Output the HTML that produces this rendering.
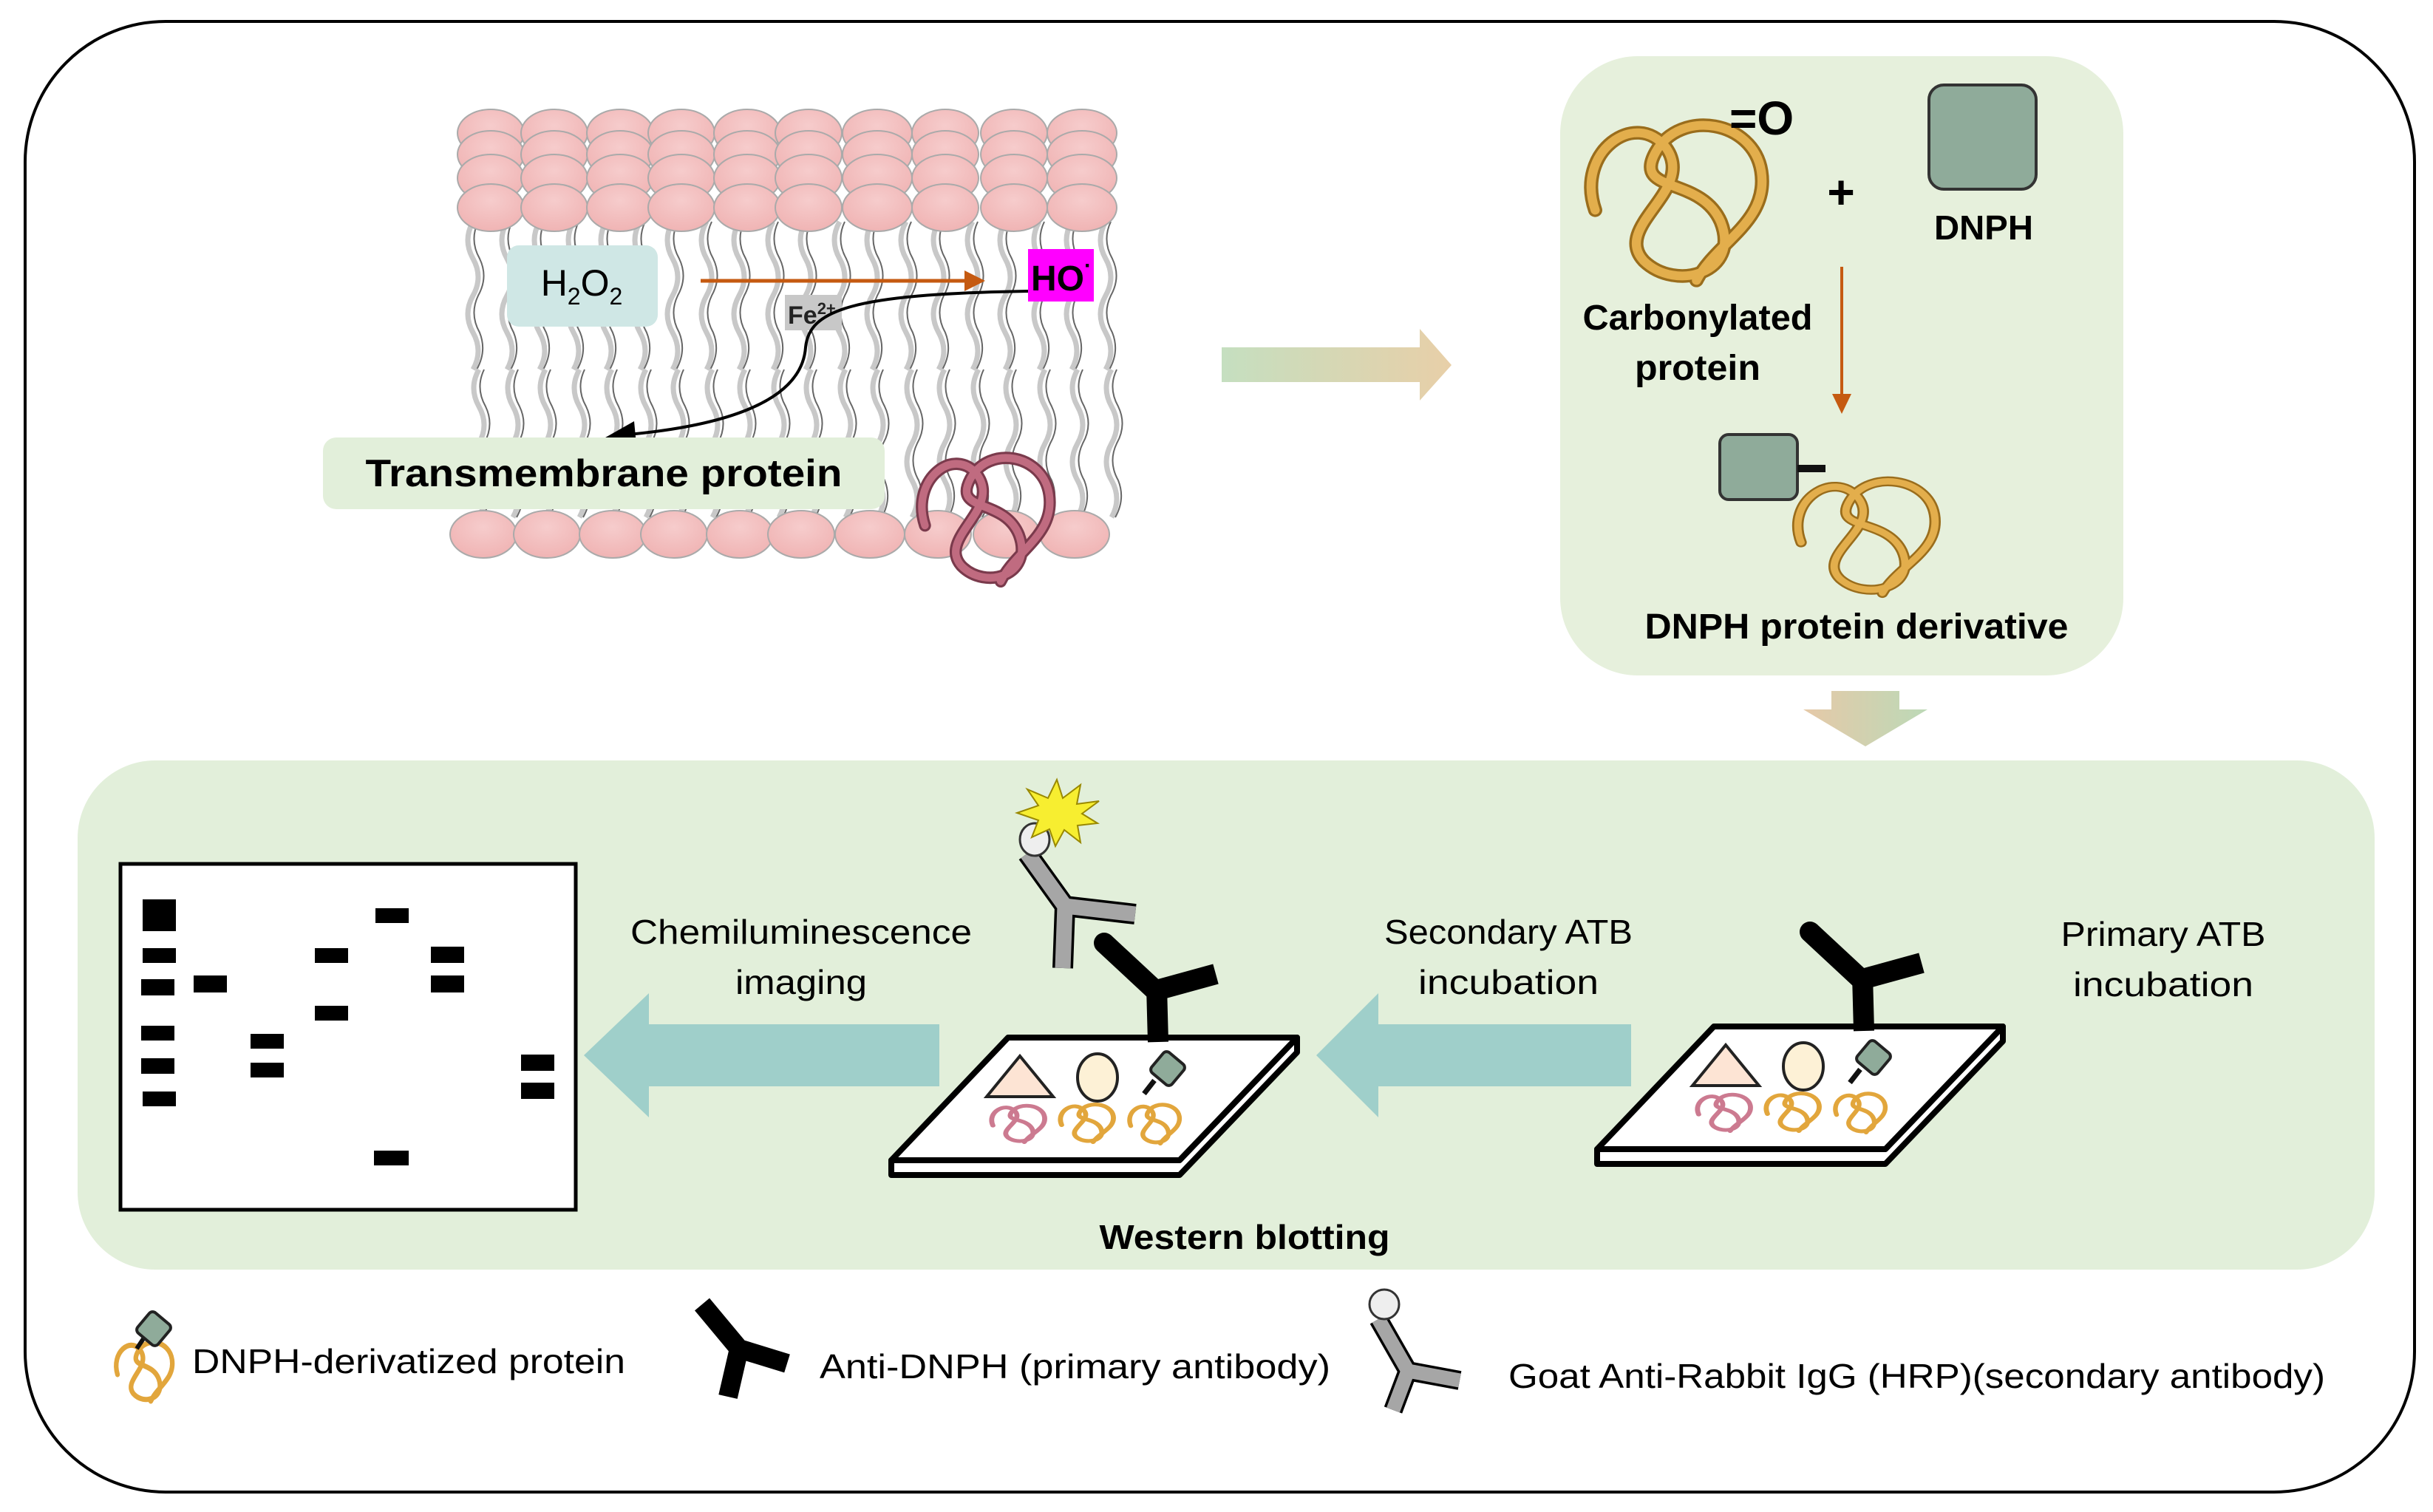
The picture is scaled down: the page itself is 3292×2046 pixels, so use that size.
<!DOCTYPE html>
<html><head><meta charset="utf-8"><style>
html,body{margin:0;padding:0;background:#fff}
svg{display:block}
text{font-family:"Liberation Sans",sans-serif}
</style></head><body>
<svg width="3292" height="2046" viewBox="0 0 3292 2046" xmlns="http://www.w3.org/2000/svg">
<defs>
<radialGradient id="head" cx="50%" cy="35%" r="65%"><stop offset="0" stop-color="#f6cccc"/><stop offset="1" stop-color="#f0b4b4"/></radialGradient>
<linearGradient id="ga" x1="0" x2="1"><stop offset="0" stop-color="#c5dfc0"/><stop offset="1" stop-color="#e8cfa8"/></linearGradient>
<linearGradient id="gd" x1="0" x2="1"><stop offset="0" stop-color="#e6c9a8"/><stop offset="1" stop-color="#bcd9b7"/></linearGradient>
<path id="coil" d="M10,60 C0,30 30,8 45,28 C60,50 18,68 34,86 C50,102 82,92 72,66 C62,42 28,52 40,30 C52,8 88,14 92,40 C96,66 70,76 60,96"/>
<g id="tail"><path d="M0,0 q-14,25 0,50 q14,25 0,50 q-14,25 0,50 q14,25 0,50" fill="none" stroke="#c8c8c8" stroke-width="7"/><path d="M7,0 q-12,25 2,50 q12,25 -2,50 q-12,25 2,50 q10,25 -4,50" fill="none" stroke="#666" stroke-width="2"/></g>
<g id="hr">
<ellipse cx="664" cy="0" rx="45" ry="32"/><ellipse cx="750" cy="0" rx="45" ry="32"/><ellipse cx="839" cy="0" rx="45" ry="32"/><ellipse cx="922" cy="0" rx="45" ry="32"/><ellipse cx="1011" cy="0" rx="45" ry="32"/><ellipse cx="1094" cy="0" rx="45" ry="32"/><ellipse cx="1187" cy="0" rx="47" ry="32"/><ellipse cx="1279" cy="0" rx="45" ry="32"/><ellipse cx="1372" cy="0" rx="45" ry="32"/><ellipse cx="1464" cy="0" rx="47" ry="32"/>
</g>
<g id="tr">
<use href="#tail" x="640"/><use href="#tail" x="686"/><use href="#tail" x="730"/><use href="#tail" x="776"/><use href="#tail" x="820"/><use href="#tail" x="866"/><use href="#tail" x="910"/><use href="#tail" x="956"/><use href="#tail" x="1000"/><use href="#tail" x="1046"/><use href="#tail" x="1090"/><use href="#tail" x="1136"/><use href="#tail" x="1180"/><use href="#tail" x="1226"/><use href="#tail" x="1270"/><use href="#tail" x="1316"/><use href="#tail" x="1360"/><use href="#tail" x="1406"/><use href="#tail" x="1450"/><use href="#tail" x="1496"/>
</g>
</defs>

<rect x="34" y="29" width="3233" height="1990" rx="190" fill="#fff" stroke="#000" stroke-width="4"/>

<!-- membrane tails -->
<use href="#tr" y="300"/>
<use href="#tr" x="8" y="500"/>
<!-- heads -->
<g fill="url(#head)" stroke="#aaa" stroke-width="2">
<use href="#hr" y="180"/><use href="#hr" y="209"/><use href="#hr" y="241"/><use href="#hr" y="281"/><use href="#hr" x="-10" y="723"/>
</g>

<!-- H2O2 -->
<rect x="686" y="332" width="204" height="110" rx="16" fill="#cfe7e5"/>
<text x="787" y="400" font-size="50" text-anchor="middle">H<tspan font-size="32" dy="12">2</tspan><tspan dy="-12">O</tspan><tspan font-size="32" dy="12">2</tspan></text>
<line x1="948" y1="380" x2="1310" y2="380" stroke="#c55a11" stroke-width="5"/>
<polygon points="1333,380 1305,366 1305,394" fill="#c55a11"/>
<rect x="1391" y="337" width="89" height="71" fill="#ff00ff"/>
<text x="1395" y="393" font-size="48" font-weight="bold">HO<tspan font-size="30" dy="-24">·</tspan></text>
<rect x="1062" y="399" width="77" height="48" fill="#c8c8c8"/>
<text x="1066" y="438" font-size="34" font-weight="bold" fill="#222">Fe<tspan font-size="22" dy="-13">2+</tspan></text>
<path d="M1391,394 C1150,398 1095,420 1090,470 C1085,540 990,575 850,588" fill="none" stroke="#000" stroke-width="4"/>
<polygon points="812,596 858,570 862,612" fill="#000"/>

<!-- transmembrane protein -->
<rect x="437" y="592" width="760" height="97" rx="18" fill="#e2efda"/>
<text x="817" y="658" font-size="52" font-weight="bold" text-anchor="middle" textLength="645" lengthAdjust="spacingAndGlyphs">Transmembrane protein</text>
<g transform="translate(1231,585) scale(2.05,2.1)" fill="none" stroke-linecap="round"><use href="#coil" stroke="#7a3a4c" stroke-width="8"/><use href="#coil" stroke="#c06b80" stroke-width="5"/></g>

<!-- middle arrow -->
<polygon points="1653,470 1921,470 1921,445 1964,494 1921,542 1921,517 1653,517" fill="url(#ga)"/>

<!-- right panel -->
<rect x="2111" y="76" width="762" height="838" rx="105" fill="#e6f0dc"/>
<g transform="translate(2131,126) scale(2.74,2.64)" fill="none" stroke-linecap="round"><use href="#coil" stroke="#9a6d1c" stroke-width="7"/><use href="#coil" stroke="#e3ae4c" stroke-width="4.5"/></g>
<text x="2340" y="182" font-size="64" font-weight="bold">=O</text>
<text x="2491" y="282" font-size="64" font-weight="bold" text-anchor="middle">+</text>
<rect x="2610" y="115" width="145" height="141" rx="20" fill="#8fab9a" stroke="#333" stroke-width="4"/>
<text x="2684" y="324" font-size="46" font-weight="bold" text-anchor="middle" textLength="134" lengthAdjust="spacingAndGlyphs">DNPH</text>
<text x="2297" y="446" font-size="48" font-weight="bold" text-anchor="middle" textLength="311" lengthAdjust="spacingAndGlyphs">Carbonylated</text>
<text x="2297" y="514" font-size="48" font-weight="bold" text-anchor="middle" textLength="170" lengthAdjust="spacingAndGlyphs">protein</text>
<line x1="2492" y1="361" x2="2492" y2="535" stroke="#c55a11" stroke-width="4"/>
<polygon points="2492,560 2479,533 2505,533" fill="#c55a11"/>
<rect x="2327" y="588" width="105" height="88" rx="12" fill="#8fab9a" stroke="#333" stroke-width="4"/>
<line x1="2432" y1="634" x2="2470" y2="634" stroke="#111" stroke-width="10"/>
<g transform="translate(2415,620) scale(2.2,1.9)" fill="none" stroke-linecap="round"><use href="#coil" stroke="#9a6d1c" stroke-width="7"/><use href="#coil" stroke="#e3ae4c" stroke-width="4.5"/></g>
<text x="2512" y="864" font-size="48" font-weight="bold" text-anchor="middle" textLength="573" lengthAdjust="spacingAndGlyphs">DNPH protein derivative</text>

<!-- down arrow -->
<polygon points="2478,935 2570,935 2570,960 2608,960 2524,1010 2440,960 2478,960" fill="url(#gd)"/>

<!-- bottom panel -->
<rect x="105" y="1029" width="3108" height="689" rx="105" fill="#e2efda"/>
<rect x="163" y="1169" width="616" height="468" fill="#fff" stroke="#000" stroke-width="5"/>
<g fill="#000">
<rect x="193" y="1217" width="45" height="43"/><rect x="193" y="1283" width="45" height="20"/><rect x="191" y="1325" width="45" height="22"/><rect x="262" y="1320" width="45" height="23"/>
<rect x="191" y="1388" width="45" height="20"/><rect x="191" y="1432" width="45" height="21"/><rect x="193" y="1477" width="45" height="20"/>
<rect x="339" y="1399" width="45" height="20"/><rect x="339" y="1438" width="45" height="20"/>
<rect x="426" y="1283" width="45" height="20"/><rect x="426" y="1361" width="45" height="20"/>
<rect x="508" y="1229" width="45" height="20"/><rect x="506" y="1557" width="47" height="20"/>
<rect x="583" y="1281" width="45" height="22"/><rect x="583" y="1320" width="45" height="23"/>
<rect x="705" y="1427" width="45" height="22"/><rect x="705" y="1465" width="45" height="22"/>
</g>

<polygon points="878,1386 1271,1386 1271,1470 878,1470 878,1512 790,1428 878,1344" fill="#9fcfca"/>
<polygon points="1865,1386 2207,1386 2207,1470 1865,1470 1865,1512 1781,1428 1865,1344" fill="#9fcfca"/>

<text x="1084" y="1277" font-size="46" text-anchor="middle" textLength="462" lengthAdjust="spacingAndGlyphs">Chemiluminescence</text>
<text x="1084" y="1345" font-size="46" text-anchor="middle" textLength="178" lengthAdjust="spacingAndGlyphs">imaging</text>
<text x="2041" y="1277" font-size="46" text-anchor="middle" textLength="336" lengthAdjust="spacingAndGlyphs">Secondary ATB</text>
<text x="2041" y="1345" font-size="46" text-anchor="middle" textLength="244" lengthAdjust="spacingAndGlyphs">incubation</text>
<text x="2927" y="1280" font-size="46" text-anchor="middle" textLength="277" lengthAdjust="spacingAndGlyphs">Primary ATB</text>
<text x="2927" y="1348" font-size="46" text-anchor="middle" textLength="244" lengthAdjust="spacingAndGlyphs">incubation</text>
<text x="1684" y="1690" font-size="46" font-weight="bold" text-anchor="middle" textLength="393" lengthAdjust="spacingAndGlyphs">Western blotting</text>

<!-- plate group -->
<g id="plate">
<polygon points="1206,1570 1596,1570 1755,1404 1755,1424 1596,1590 1206,1590" fill="#fff" stroke="#000" stroke-width="8" stroke-linejoin="round"/>
<polygon points="1364,1404 1755,1404 1596,1570 1206,1570" fill="#fff" stroke="#000" stroke-width="8" stroke-linejoin="round"/>
<polygon points="1380,1429 1425,1484 1335,1484" fill="#fde4d4" stroke="#222" stroke-width="4"/>
<ellipse cx="1485" cy="1458" rx="27" ry="32" fill="#fdf1d6" stroke="#222" stroke-width="4"/>
<line x1="1562" y1="1462" x2="1548" y2="1480" stroke="#111" stroke-width="7"/>
<rect x="1562" y="1428" width="36" height="36" rx="6" fill="#8fab9a" stroke="#222" stroke-width="4" transform="rotate(40 1580 1446)"/>
<g transform="translate(1335,1486) scale(0.85,0.62)" fill="none" stroke="#cc7a90" stroke-width="8" stroke-linecap="round"><use href="#coil"/></g>
<g transform="translate(1428,1484) scale(0.85,0.64)" fill="none" stroke="#e2a63c" stroke-width="8" stroke-linecap="round"><use href="#coil"/></g>
<g transform="translate(1522,1484) scale(0.8,0.66)" fill="none" stroke="#e2a63c" stroke-width="8" stroke-linecap="round"><use href="#coil"/></g>
<!-- black antibody -->
<g stroke="#000" stroke-width="28" stroke-linecap="butt" fill="none">
<line x1="1567" y1="1410" x2="1565" y2="1335"/>
<path d="M1565,1342 L1494,1276"/>
<path d="M1565,1340 L1645,1318"/>
</g>
<circle cx="1494" cy="1276" r="14" fill="#000"/>
</g>
<use href="#plate" x="955" y="-15"/>

<!-- gray antibody -->
<g stroke="#000" stroke-width="28" fill="none" stroke-linejoin="round">
<path d="M1438,1310 L1441,1226 L1390,1155 M1441,1226 L1536,1237"/>
</g>
<g stroke="#a6a6a6" stroke-width="21" fill="none" stroke-linejoin="round">
<path d="M1438,1310 L1441,1226 L1390,1155 M1441,1226 L1536,1237"/>
</g>
<ellipse cx="1400" cy="1136" rx="20" ry="22" fill="#eee" stroke="#333" stroke-width="3"/>
<polygon points="1430,1055 1438,1080 1462,1062 1457,1088 1487,1084 1464,1101 1485,1114 1458,1117 1462,1140 1440,1123 1428,1145 1420,1122 1396,1133 1405,1110 1376,1100 1405,1090 1390,1068 1418,1080" fill="#f7ee30" stroke="#998800" stroke-width="2"/>

<!-- legend -->
<g transform="translate(150,1800) scale(0.9,1)" fill="none" stroke="#e2a63c" stroke-width="7" stroke-linecap="round"><use href="#coil"/></g>
<line x1="195" y1="1810" x2="185" y2="1825" stroke="#111" stroke-width="6"/>
<rect x="190" y="1780" width="36" height="36" rx="6" fill="#8fab9a" stroke="#222" stroke-width="4" transform="rotate(40 208 1798)"/>
<text x="260" y="1858" font-size="46" textLength="586" lengthAdjust="spacingAndGlyphs">DNPH-derivatized protein</text>

<g stroke="#000" stroke-width="26" fill="none">
<path d="M985,1890 L1000,1825 L950,1765 M1000,1825 L1065,1845"/>
</g>
<text x="1109" y="1865" font-size="46" textLength="691" lengthAdjust="spacingAndGlyphs">Anti-DNPH (primary antibody)</text>

<g stroke="#000" stroke-width="26" fill="none" stroke-linejoin="round"><path d="M1885,1908 L1905,1855 L1865,1785 M1905,1855 L1975,1868"/></g>
<g stroke="#a6a6a6" stroke-width="19" fill="none" stroke-linejoin="round"><path d="M1885,1908 L1905,1855 L1865,1785 M1905,1855 L1975,1868"/></g>
<circle cx="1873" cy="1765" r="20" fill="#eee" stroke="#333" stroke-width="3"/>
<text x="2041" y="1878" font-size="46" textLength="1105" lengthAdjust="spacingAndGlyphs">Goat Anti-Rabbit IgG (HRP)(secondary antibody)</text>
</svg>
</body></html>
